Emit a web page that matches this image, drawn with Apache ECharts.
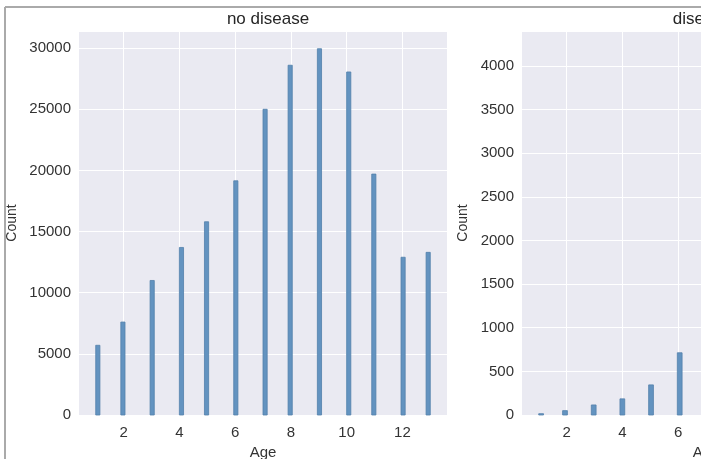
<!DOCTYPE html>
<html>
<head>
<meta charset="utf-8">
<title>Age histogram</title>
<script src="https://cdn.jsdelivr.net/npm/echarts@6/dist/echarts.min.js"></script>
<style>
  html, body { margin: 0; padding: 0; background: #fff; }
  #main { width: 701px; height: 459px; }
</style>
</head>
<body>
<div id="main"></div>
<script>
// left panel: no disease (80 bins over 1..13)
const noDiseaseBinStart = [1, 1.9, 2.95, 4, 4.9, 5.95, 7, 7.9, 8.95, 10, 10.9, 11.95, 12.85];
const noDiseaseBinWidth = 0.15;
const noDiseaseCounts = [5700, 7600, 11000, 13700, 15800, 19150, 25000, 28600, 29950, 28050, 19700, 12900, 13300];

// right panel: disease (70 bins over 1..13), only the visible part
const diseaseBinStart = [1, 1.857, 2.886, 3.914, 4.943, 5.971];
const diseaseBinWidth = 0.1714;
const diseaseCounts = [15, 50, 115, 185, 345, 713];

const xTicks = [2, 4, 6, 8, 10, 12];
const panelTitles = ["no disease", "disease"];

const FONT = "Liberation Sans";
const TEXT = "#333";

function histData(starts, w, counts) {
  return starts.map((s, i) => [s, counts[i], s + w]);
}

function renderBin(params, api) {
  const p0 = api.coord([api.value(0), api.value(1)]);
  const p1 = api.coord([api.value(2), 0]);
  return {
    type: "rect",
    shape: { x: p0[0], y: p0[1], width: p1[0] - p0[0], height: p1[1] - p0[1] },
    style: { fill: "#6393c0", stroke: "#5380ab", lineWidth: 0.8 }
  };
}

function xAxisCfg(idx) {
  return {
    type: "value", gridIndex: idx, min: 0.4, max: 13.6,
    name: "Age", nameLocation: "middle", nameGap: 30,
    nameTextStyle: { fontFamily: FONT, fontSize: 15, color: TEXT },
    axisLine: { show: false }, axisTick: { show: false, customValues: xTicks },
    axisLabel: { customValues: xTicks, fontFamily: FONT, fontSize: 15, color: TEXT, margin: 10,
      formatter: v => String(v) },
    splitLine: { show: true, lineStyle: { color: "#fff", width: 1 } }
  };
}

function yAxisCfg(idx, max, interval, gap) {
  return {
    type: "value", gridIndex: idx, min: 0, max: max, interval: interval,
    name: "Count", nameLocation: "middle", nameGap: gap, nameMoveOverlap: false,
    nameTextStyle: { fontFamily: FONT, fontSize: 14, color: TEXT },
    axisLine: { show: false }, axisTick: { show: false },
    axisLabel: { fontFamily: FONT, fontSize: 15, color: TEXT, margin: 8,
      showMaxLabel: false, formatter: v => String(v) },
    splitLine: { show: true, lineStyle: { color: "#fff", width: 1 } }
  };
}

let chart = echarts.init(document.getElementById("main"));
let option = {
  backgroundColor: "#fff",
  animation: false,
  title: [
    { text: panelTitles[0], left: 263, top: 6, textAlign: "center",
      textStyle: { fontFamily: FONT, fontSize: 17, fontWeight: "normal", color: "#262626" } },
    { text: panelTitles[1], left: 697, top: 6, textAlign: "center",
      textStyle: { fontFamily: FONT, fontSize: 17, fontWeight: "normal", color: "#262626" } }
  ],
  grid: [
    { left: 79, top: 31, width: 368, height: 384, show: true, backgroundColor: "#eaeaf2", borderWidth: 0,
      outerBoundsMode: "none", containLabel: false },
    { left: 522, top: 31, width: 368, height: 384, show: true, backgroundColor: "#eaeaf2", borderWidth: 0,
      outerBoundsMode: "none", containLabel: false }
  ],
  xAxis: [xAxisCfg(0), xAxisCfg(1)],
  yAxis: [yAxisCfg(0, 31400, 5000, 60), yAxisCfg(1, 4400, 500, 52)],
  series: [
    { type: "custom", xAxisIndex: 0, yAxisIndex: 0, renderItem: renderBin,
      encode: { x: [0, 2], y: 1 },
      data: histData(noDiseaseBinStart, noDiseaseBinWidth, noDiseaseCounts) },
    { type: "custom", xAxisIndex: 1, yAxisIndex: 1, renderItem: renderBin,
      encode: { x: [0, 2], y: 1 },
      data: histData(diseaseBinStart, diseaseBinWidth, diseaseCounts) }
  ],
  graphic: [
    { type: "line", shape: { x1: 5, y1: 7, x2: 5, y2: 459 }, style: { stroke: "#aaa", lineWidth: 2 } },
    { type: "line", shape: { x1: 5, y1: 7, x2: 701, y2: 7 }, style: { stroke: "#aaa", lineWidth: 2 } }
  ]
};
chart.setOption(option);
</script>
</body>
</html>
